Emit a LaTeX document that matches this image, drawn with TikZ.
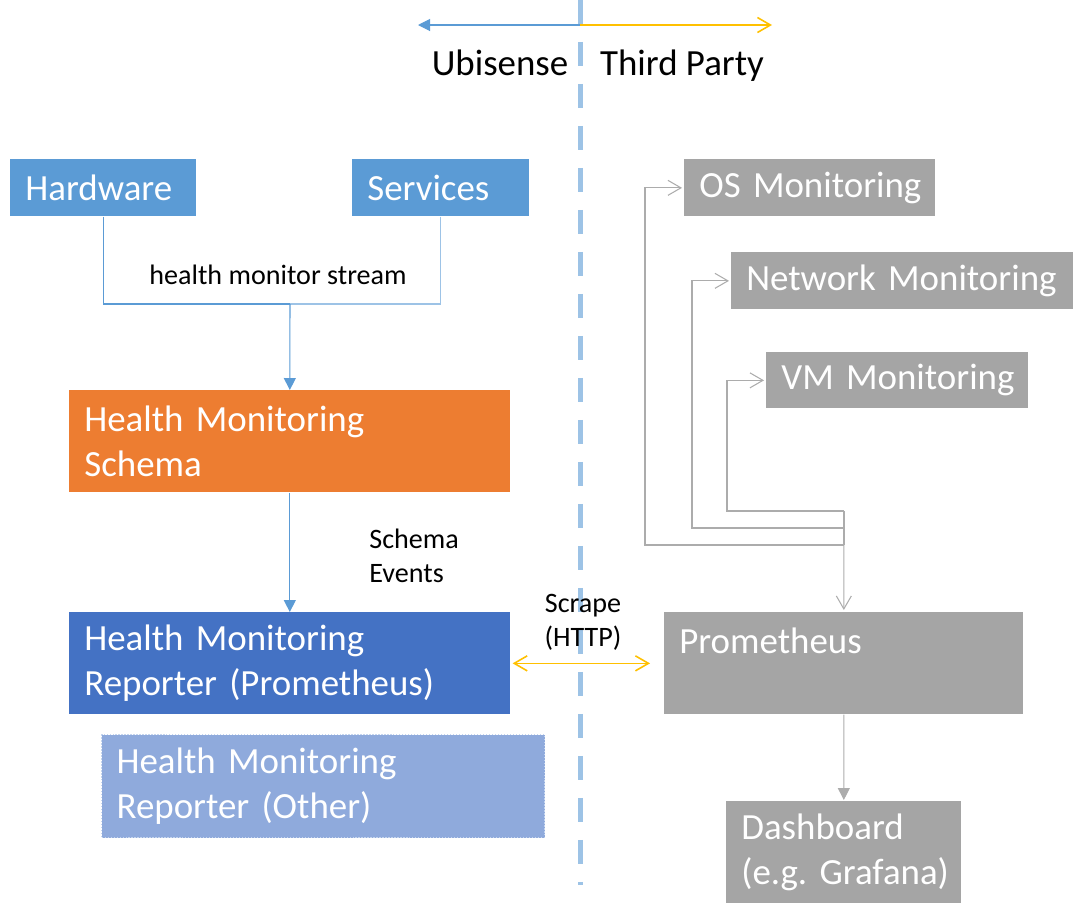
\documentclass[tikz,border=0pt]{standalone}
\usepackage{fontspec}
\setmainfont{Carlito}
\usepackage{tikz}
\usetikzlibrary{arrows.meta,positioning}
\usepackage{xcolor}
\definecolor{hwblue}{HTML}{5B9BD5}
\definecolor{paleblue}{HTML}{9DC3E6}
\definecolor{schemaorange}{HTML}{ED7D31}
\definecolor{repblue}{HTML}{4472C4}
\definecolor{otherblue}{HTML}{8FAADC}
\definecolor{dotblue}{HTML}{C5D5EE}
\definecolor{boxgray}{HTML}{A5A5A5}
\definecolor{linegray}{HTML}{ACACAC}
\definecolor{gold}{HTML}{FFC000}

\newcommand{\bigtext}{\fontsize{21}{25.5}\selectfont}
\newcommand{\smalltext}{\fontsize{16}{19.3}\selectfont}

\tikzset{
  box/.style={rectangle, anchor=north west, inner xsep=0.3cm, inner ysep=0pt,
    align=left, text=white, font=\bigtext,
    execute at begin node={\hyphenpenalty=10000\exhyphenpenalty=10000}},
  lbl/.style={inner sep=0pt, font=\smalltext},
  blueline/.style={draw=hwblue, line width=0.6pt},
  grayline/.style={draw=linegray, line width=0.6pt},
  goldline/.style={draw=gold, line width=0.9pt},
  filltip/.style={-{Triangle[length=0.24cm, width=0.24cm]}},
  barbtip/.style={-{Straight Barb[length=0.26cm, width=0.3cm]}},
}

\begin{document}
\begin{tikzpicture}[x=0.02cm, y=-0.02cm]
         \useasboundingbox (0,0) rectangle (1081,920);

         % divider
         \draw[paleblue, line width=0.1cm, dash pattern=on 0.48cm off 0.36cm] (580,0) -- (580,885);

         % coords
         \coordinate (split) at (580,25);
         \coordinate (LX) at (418,25);
         \coordinate (RX) at (772,25);

         \draw[blueline, filltip] (split) -- (LX);
         \draw[goldline, barbtip] (split) -- (RX);
         \node[font=\bigtext, anchor=base, inner sep=0pt] (ubisense) at (500,75) {Ubisense};
         \node[font=\bigtext, anchor=base, inner sep=0pt] (thirdparty) at (682,75) {Third Party};

         % ubisense side
         \node[box, fill=hwblue, text width=3.12cm, minimum height=1.14cm] (hw) at (10,159) {Hardware};
         \node[box, fill=hwblue, text width=2.94cm, minimum height=1.14cm] (srv) at (352,159) {Services};
         \node[box, fill=schemaorange, text width=8.22cm, minimum height=2.04cm] (schema) at (69,390) {Health Monitoring\\Schema};
         \node[box, fill=repblue, text width=8.22cm, minimum height=2.04cm] (rep) at (69,612) {Health Monitoring\\Reporter (Prometheus)};
         \node[box, fill=otherblue, draw=dotblue, densely dotted, line width=0.7pt, text width=8.26cm, minimum height=2.06cm] (other) at (101,734) {Health Monitoring\\Reporter (Other)};

         \coordinate (merge) at (290,304);
         \draw[blueline] (hw.south) |- (merge);
         \draw[draw=paleblue, line width=0.6pt] (srv.south) |- (merge);
         \draw[blueline, filltip] (merge) -- (schema.north);
         \node[lbl] (stream) at (278,275) {health monitor stream};

         \draw[blueline, filltip] (schema.south) -- (rep.north);
         \node[lbl, align=left, anchor=west] (events) at (369,556) {Schema\\Events};

         % third party side
         \node[box, fill=boxgray, text width=4.42cm, minimum height=1.14cm] (os) at (684,159) {OS~Monitoring};
         \node[box, fill=boxgray, text width=6.24cm, minimum height=1.14cm] (net) at (731,252) {Network~Monitoring};
         \node[box, fill=boxgray, text width=4.64cm, minimum height=1.12cm] (vm) at (766,352) {VM~Monitoring};
         \node[box, fill=boxgray, text width=6.58cm, minimum height=2.04cm] (prom) at (664,612) {Prometheus\\~};
         \node[box, fill=boxgray, text width=4.10cm, minimum height=2.04cm] (dash) at (726,801) {Dashboard\\(e.g.~Grafana)};

         \coordinate (jvm) at (844,511);
         \coordinate (jnet) at (844,528);
         \coordinate (jos) at (844,545);
         \draw[grayline, barbtip, shorten >=0.04cm] (jvm) -- (prom.north);
         \draw[grayline] (jvm) -- (jos);
         \draw[grayline, barbtip, shorten >=0.04cm] (jos) -- ++(-199,0) |- (os.west);
         \draw[grayline, barbtip, shorten >=0.04cm] (jnet) -- ++(-152,0) |- (net.west);
         \draw[grayline, barbtip, shorten >=0.04cm] (jvm) -- ++(-117,0) |- (vm.west);
         \draw[grayline, filltip, shorten >=0.02cm] (prom.south) -- (dash.north);

         % scrape
         \draw[goldline, {Straight Barb[length=0.26cm, width=0.3cm]}-{Straight Barb[length=0.26cm, width=0.3cm]}, shorten <=0.04cm, shorten >=0.28cm] (rep.east) -- (prom.west);
         \node[lbl, align=center] (scrape) at (583,622) {Scrape\\(HTTP)};
      \end{tikzpicture}
\end{document}
